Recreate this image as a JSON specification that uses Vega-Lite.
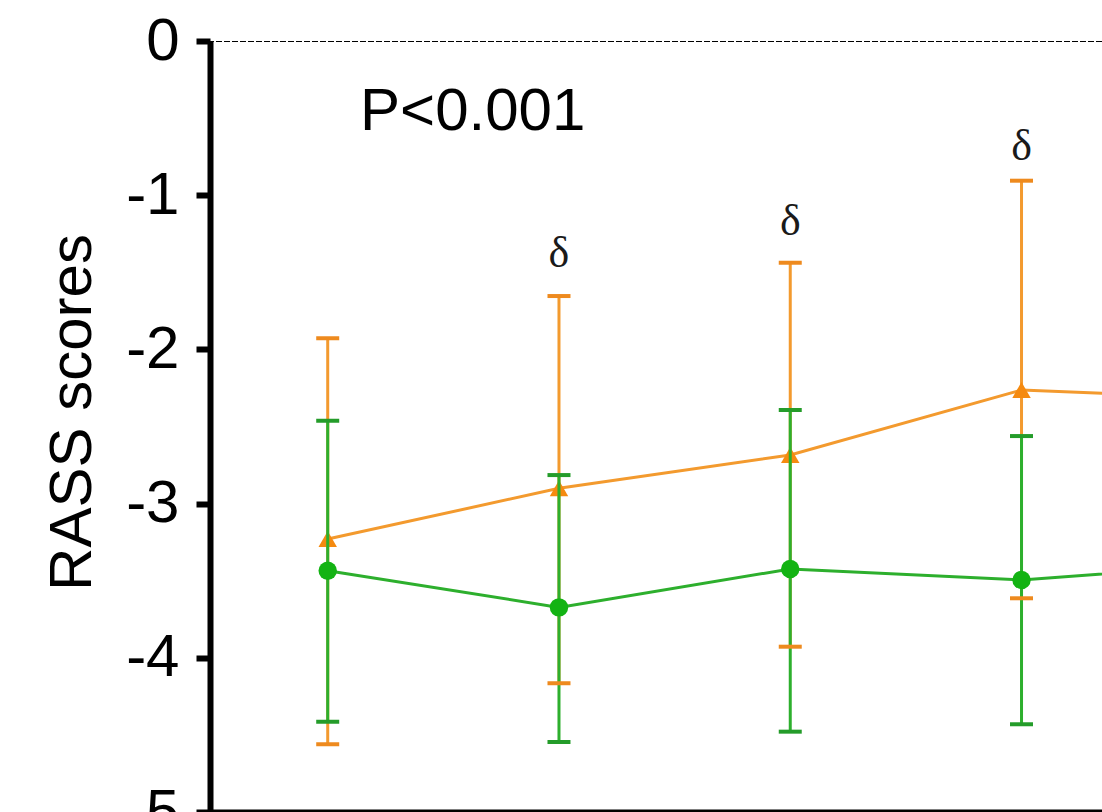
{
  "$schema": "https://vega.github.io/schema/vega-lite/v6.json",
  "width": 892,
  "height": 771,
  "autosize": {"type": "none"},
  "padding": {"left": 210, "top": 41, "right": 0, "bottom": 0},
  "background": "white",
  "config": {"view": {"stroke": null}},
  "datasets": {
    "scores": [
      {"group": "B", "time": 1, "mean": -3.435, "lo": -4.414, "hi": -2.462},
      {"group": "B", "time": 2, "mean": -3.673, "lo": -4.546, "hi": -2.815},
      {"group": "B", "time": 3, "mean": -3.424, "lo": -4.479, "hi": -2.393},
      {"group": "B", "time": 4, "mean": -3.495, "lo": -4.431, "hi": -2.562},
      {"group": "B", "time": 5, "mean": -3.383, "lo": null, "hi": null},
      {"group": "A", "time": 1, "mean": -3.23, "lo": -4.561, "hi": -1.928},
      {"group": "A", "time": 2, "mean": -2.901, "lo": -4.165, "hi": -1.654},
      {"group": "A", "time": 3, "mean": -2.685, "lo": -3.928, "hi": -1.438},
      {"group": "A", "time": 4, "mean": -2.263, "lo": -3.614, "hi": -0.906},
      {"group": "A", "time": 5, "mean": -2.325, "lo": null, "hi": null}
    ],
    "marks": [
      {"time": 2, "y": -1.464, "label": "δ"},
      {"time": 3, "y": -1.258, "label": "δ"},
      {"time": 4, "y": -0.772, "label": "δ"}
    ],
    "note": [
      {"time": 1.14, "y": -0.577, "label": "P<0.001"}
    ]
  },
  "encoding": {
    "x": {
      "field": "time",
      "type": "quantitative",
      "scale": {"domain": [0.491, 4.348], "nice": false, "zero": false},
      "axis": {
        "title": null,
        "values": [1, 2, 3, 4],
        "labels": false,
        "domainColor": "black",
        "domainWidth": 6,
        "tickColor": "black",
        "tickWidth": 4,
        "tickSize": 12,
        "grid": false
      }
    }
  },
  "layer": [
    {
      "data": {"values": [{}]},
      "mark": {"type": "rule", "color": "black", "strokeWidth": 2, "strokeDash": [6, 2], "clip": true},
      "encoding": {
        "x": null,
        "y": {
          "datum": 0,
          "type": "quantitative",
          "scale": {"domain": [-5, 0], "nice": false, "zero": false},
          "axis": {
            "title": "RASS scores",
            "titleFont": "Liberation Sans",
            "titleFontSize": 60,
            "titleFontWeight": "normal",
            "titleColor": "black",
            "titleAngle": -90,
            "titleBaseline": "alphabetic",
            "titleAlign": "center",
            "titleX": -120,
            "titleY": 371,
            "values": [0, -1, -2, -3, -4, -5],
            "labelExpr": "datum.value == 0 ? '0' : '-' + abs(datum.value)",
            "labelFont": "Liberation Sans",
            "labelFontSize": 60,
            "labelColor": "black",
            "labelPadding": 17,
            "labelBaseline": "middle",
            "labelOverlap": false,
            "labelFlush": false,
            "domainColor": "black",
            "domainWidth": 6,
            "tickColor": "black",
            "tickWidth": 6,
            "tickSize": 14,
            "grid": false
          }
        }
      }
    },
    {
      "data": {"name": "scores"},
      "transform": [{"filter": "datum.group == 'A' && datum.lo != null"}],
      "mark": {"type": "rule", "color": "#F39A2E", "strokeWidth": 3, "clip": true},
      "encoding": {
        "y": {"field": "lo", "type": "quantitative"},
        "y2": {"field": "hi"}
      }
    },
    {
      "data": {"name": "scores"},
      "transform": [{"filter": "datum.group == 'A'"}],
      "mark": {"type": "line", "color": "#F39A2E", "strokeWidth": 3, "clip": true},
      "encoding": {
        "y": {"field": "mean", "type": "quantitative"}
      }
    },
    {
      "data": {"name": "scores"},
      "transform": [{"filter": "datum.group == 'A'"}],
      "mark": {"type": "point", "shape": "triangle-up", "filled": true, "color": "#F58A10", "opacity": 1, "size": 340, "clip": true},
      "encoding": {
        "y": {"field": "mean", "type": "quantitative"}
      }
    },
    {
      "data": {"name": "scores"},
      "transform": [{"filter": "datum.group == 'B' && datum.lo != null"}],
      "mark": {"type": "rule", "color": "#2DAF2D", "strokeWidth": 3, "clip": true},
      "encoding": {
        "y": {"field": "lo", "type": "quantitative"},
        "y2": {"field": "hi"}
      }
    },
    {
      "data": {"name": "scores"},
      "transform": [{"filter": "datum.group == 'B'"}],
      "mark": {"type": "line", "color": "#2DAF2D", "strokeWidth": 3, "clip": true},
      "encoding": {
        "y": {"field": "mean", "type": "quantitative"}
      }
    },
    {
      "data": {"name": "scores"},
      "transform": [{"filter": "datum.lo != null"}],
      "mark": {"type": "tick", "orient": "horizontal", "size": 23, "thickness": 4, "opacity": 1, "clip": true},
      "encoding": {
        "y": {"field": "lo", "type": "quantitative"},
        "color": {"field": "group", "type": "nominal", "scale": {"domain": ["A", "B"], "range": ["#EE8A1E", "#249C2A"]}, "legend": null}
      }
    },
    {
      "data": {"name": "scores"},
      "transform": [{"filter": "datum.hi != null"}],
      "mark": {"type": "tick", "orient": "horizontal", "size": 23, "thickness": 4, "opacity": 1, "clip": true},
      "encoding": {
        "y": {"field": "hi", "type": "quantitative"},
        "color": {"field": "group", "type": "nominal", "scale": {"domain": ["A", "B"], "range": ["#EE8A1E", "#249C2A"]}, "legend": null}
      }
    },
    {
      "data": {"name": "scores"},
      "transform": [{"filter": "datum.group == 'B'"}],
      "mark": {"type": "point", "shape": "circle", "filled": true, "color": "#13B313", "opacity": 1, "size": 340, "clip": true},
      "encoding": {
        "y": {"field": "mean", "type": "quantitative"}
      }
    },
    {
      "data": {"name": "marks"},
      "mark": {"type": "text", "font": "Liberation Serif", "fontSize": 44, "color": "#1a1a1a", "align": "center", "baseline": "alphabetic"},
      "encoding": {
        "y": {"field": "y", "type": "quantitative"},
        "text": {"field": "label"}
      }
    },
    {
      "data": {"name": "note"},
      "mark": {"type": "text", "font": "Liberation Sans", "fontSize": 60, "color": "black", "align": "left", "baseline": "alphabetic"},
      "encoding": {
        "y": {"field": "y", "type": "quantitative"},
        "text": {"field": "label"}
      }
    }
  ]
}
